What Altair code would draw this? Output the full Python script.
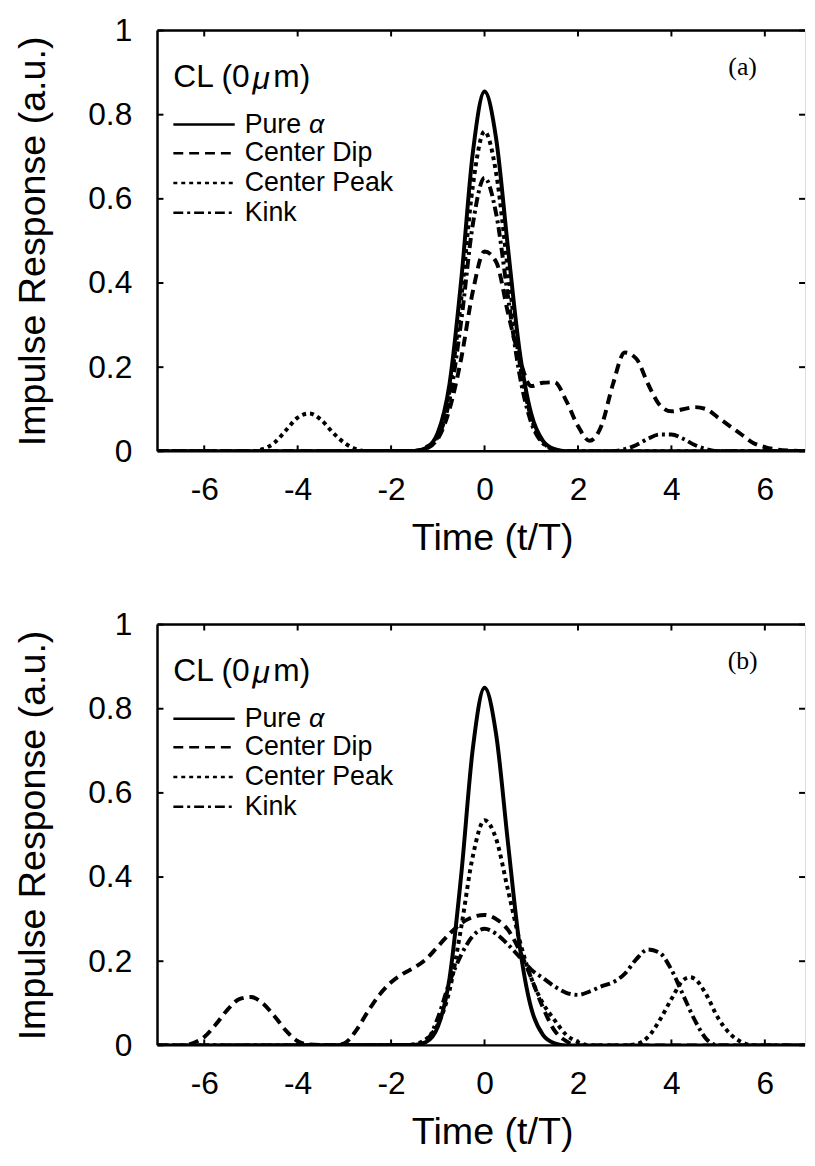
import altair as alt
import pandas as pd

# ---------------- data ----------------
X_TICKS = [-6, -4, -2, 0, 2, 4, 6]
Y_TICKS = [0, 0.2, 0.4, 0.6, 0.8, 1]
LEGEND_NAMES = ["Pure", "Center Dip", "Center Peak", "Kink"]

# panel (a)
A_PURE_T = [-7, -1.5, -1.25, -1.0, -0.75, -0.5, -0.25, 0, 0.25, 0.5, 0.75, 1.0, 1.25, 1.5, 1.75, 7]
A_PURE_V = [0, 0.001, 0.008, 0.044, 0.16, 0.406, 0.71, 0.855, 0.742, 0.485, 0.239, 0.089, 0.025, 0.005, 0, 0]

A_DIP_T = [-7, -1.5, -1.25, -1.0, -0.75, -0.5, -0.25, 0,
           0.25, 0.5, 0.75, 1.0, 1.25, 1.5, 1.75, 2.0, 2.25, 2.5, 2.75, 3.0,
           3.25, 3.5, 3.75, 4.0, 4.25, 4.5, 4.75, 5.0, 5.25, 5.5, 5.75, 6.0, 6.5, 7]
A_DIP_V = [0, 0, 0.01, 0.03, 0.1, 0.22, 0.38, 0.475,
           0.45, 0.33, 0.22, 0.155, 0.163, 0.164, 0.12, 0.06, 0.025, 0.06, 0.16, 0.235,
           0.22, 0.16, 0.11, 0.095, 0.1, 0.105, 0.1, 0.08, 0.06, 0.04, 0.02, 0.01, 0.002, 0]

A_PEAK_T = [-7, -5.0, -4.75, -4.5, -4.25, -4.0, -3.75, -3.5, -3.25, -3.0, -2.75, -2.5,
            -1.5, -1.25, -1.0, -0.75, -0.5, -0.25, 0,
            0.25, 0.5, 0.75, 1.0, 1.25, 1.5, 1.75, 7]
A_PEAK_V = [0, 0, 0.005, 0.02, 0.05, 0.08, 0.09, 0.075, 0.045, 0.02, 0.005, 0,
            0.001, 0.007, 0.039, 0.142, 0.361, 0.631, 0.76,
            0.66, 0.431, 0.212, 0.079, 0.022, 0.004, 0, 0]

A_KINK_T = [-7, -1.5, -1.25, -1.0, -0.75, -0.5, -0.25, 0,
            0.25, 0.5, 0.75, 1.0, 1.25, 1.5, 1.75,
            2.75, 3.0, 3.25, 3.5, 3.75, 4.0, 4.25, 4.5, 4.75, 5.0, 7]
A_KINK_V = [0, 0.001, 0.006, 0.033, 0.122, 0.309, 0.54, 0.65,
            0.564, 0.369, 0.182, 0.068, 0.019, 0.004, 0,
            0, 0.005, 0.015, 0.03, 0.04, 0.04, 0.03, 0.015, 0.005, 0, 0]

# panel (b)
B_PURE_T = [-7, -1.5, -1.25, -1.0, -0.75, -0.5, -0.25, 0, 0.25, 0.5, 0.75, 1.0, 1.25, 1.5, 1.75, 7]
B_PURE_V = [0, 0.001, 0.008, 0.044, 0.159, 0.404, 0.706, 0.85, 0.738, 0.483, 0.238, 0.088, 0.025, 0.005, 0, 0]

B_DIP_T = [-7, -6.5, -6.25, -6.0, -5.75, -5.5, -5.25, -5.0, -4.75, -4.5, -4.25, -4.0, -3.75,
           -3.25, -3.0, -2.75, -2.5, -2.25, -2.0, -1.75, -1.5, -1.25, -1.0, -0.75, -0.5, -0.25, 0,
           0.25, 0.5, 0.75, 1.0, 1.25, 1.5, 1.75, 2.0, 7]
B_DIP_V = [0, 0, 0.005, 0.02, 0.05, 0.085, 0.11, 0.115, 0.1, 0.07, 0.035, 0.01, 0.002,
           0, 0.005, 0.035, 0.08, 0.12, 0.15, 0.17, 0.185, 0.205, 0.235, 0.265, 0.29, 0.305, 0.31,
           0.3, 0.275, 0.225, 0.16, 0.09, 0.035, 0.01, 0, 0]

B_PEAK_T = [-7, -1.75, -1.5, -1.25, -1.0, -0.75, -0.5, -0.25, 0,
            0.25, 0.5, 0.75, 1.0, 1.25, 1.5, 1.75, 2.0, 2.25,
            3.0, 3.25, 3.5, 3.75, 4.0, 4.25, 4.4, 4.5, 4.75, 5.0, 5.25, 5.5, 5.75, 7]
B_PEAK_V = [0, 0, 0.003, 0.015, 0.05, 0.13, 0.28, 0.45, 0.535,
            0.49, 0.37, 0.25, 0.16, 0.1, 0.06, 0.025, 0.008, 0,
            0, 0.003, 0.02, 0.06, 0.11, 0.155, 0.162, 0.158, 0.12, 0.065, 0.028, 0.008, 0, 0]

B_KINK_T = [-7, -1.5, -1.25, -1.0, -0.75, -0.5, -0.25, 0,
            0.25, 0.5, 0.75, 1.0, 1.25, 1.5, 1.75, 2.0, 2.25, 2.5, 2.75, 3.0,
            3.25, 3.5, 3.75, 4.0, 4.25, 4.5, 4.75, 5.0, 7]
B_KINK_V = [0, 0, 0.01, 0.065, 0.15, 0.215, 0.26, 0.277,
            0.265, 0.24, 0.21, 0.18, 0.16, 0.14, 0.125, 0.12, 0.128, 0.14, 0.15, 0.17,
            0.205, 0.228, 0.22, 0.18, 0.12, 0.06, 0.015, 0, 0]

# ---------------- styling ----------------
FONT = "Liberation Sans"
SERIF = "Liberation Serif"
W, H = 654, 425
XDOM = [-7, 6.86]
DASH = {"Pure": None, "Center Dip": [10, 6], "Center Peak": [4, 4], "Kink": [10, 4, 3, 4]}
LEG_Y = [95, 124, 154, 184]
TICK = 6


def xenc(field="t"):
    return alt.X(f"{field}:Q", scale=alt.Scale(domain=XDOM, nice=False, zero=False),
                 axis=alt.Axis(values=X_TICKS, title="Time (t/T)", labelExpr="'' + datum.value",
                               domain=False, ticks=False, tickSize=0, grid=False, labelFlush=False,
                               labelFont=FONT, labelFontSize=32, labelColor="black", labelPadding=24,
                               titleFont=FONT, titleFontSize=38, titleFontWeight="normal",
                               titleColor="black", titlePadding=14, titleX=338))


def yenc(field="v"):
    return alt.Y(f"{field}:Q", scale=alt.Scale(domain=[0, 1], nice=False, zero=False),
                 axis=alt.Axis(values=Y_TICKS, title="Impulse Response (a.u.)", labelExpr="'' + datum.value",
                               domain=False, ticks=False, tickSize=0, grid=False, labelFlush=False,
                               labelFont=FONT, labelFontSize=32, labelColor="black", labelPadding=26,
                               titleFont=FONT, titleFontSize=38, titleFontWeight="normal",
                               titleColor="black", titlePadding=36))


one = pd.DataFrame({"k": [0]})


def txt(s, x, y, size, font=FONT, style="normal", align="left"):
    return alt.Chart(one).mark_text(text=s, font=font, fontSize=size, fontStyle=style,
                                    align=align, baseline="middle", color="black").encode(
        x=alt.value(x), y=alt.value(y))


def panel(tag, curves):
    layers = []
    for name, ts, vs in curves:
        df = pd.DataFrame({"t": ts, "v": vs})
        kw = dict(color="black", strokeWidth=4, interpolate="monotone", clip=True)
        if DASH[name]:
            kw["strokeDash"] = DASH[name]
        layers.append(alt.Chart(df).mark_line(**kw).encode(x=xenc(), y=yenc()))

    tx = pd.DataFrame({"t": X_TICKS})
    ty = pd.DataFrame({"v": Y_TICKS})
    rk = dict(color="black", strokeWidth=2)
    layers.append(alt.Chart(tx).mark_rule(**rk).encode(x=xenc(), y=alt.value(H), y2=alt.value(H - TICK)))
    layers.append(alt.Chart(tx).mark_rule(**rk).encode(x=xenc(), y=alt.value(0), y2=alt.value(TICK)))
    layers.append(alt.Chart(ty).mark_rule(**rk).encode(y=yenc(), x=alt.value(0), x2=alt.value(TICK)))
    layers.append(alt.Chart(ty).mark_rule(**rk).encode(y=yenc(), x=alt.value(W - TICK), x2=alt.value(W)))

    fk = dict(color="black", strokeWidth=2.5)
    layers.append(alt.Chart(one).mark_rule(**fk).encode(x=alt.value(0), x2=alt.value(W), y=alt.value(0)))
    layers.append(alt.Chart(one).mark_rule(**fk).encode(x=alt.value(0), x2=alt.value(W), y=alt.value(H)))
    layers.append(alt.Chart(one).mark_rule(**fk).encode(x=alt.value(0), y=alt.value(0), y2=alt.value(H)))

    # legend block
    layers.append(txt("CL (0", 16, 47, 32))
    layers.append(txt("μ", 96, 49, 32, style="italic"))
    layers.append(txt("m)", 117, 47, 32))
    for i, name in enumerate(LEGEND_NAMES):
        kw = dict(color="black", strokeWidth=2.5)
        if DASH[name]:
            kw["strokeDash"] = DASH[name]
        layers.append(alt.Chart(one).mark_rule(**kw).encode(
            x=alt.value(16), x2=alt.value(78), y=alt.value(LEG_Y[i])))
        layers.append(txt(name, 88, LEG_Y[i], 27))
    layers.append(txt("α", 153, LEG_Y[0], 27, style="italic"))
    layers.append(txt(tag, 591, 37, 26, font=SERIF, align="center"))

    return alt.layer(*layers).properties(width=W, height=H)


top = panel("(a)", [("Pure", A_PURE_T, A_PURE_V), ("Center Dip", A_DIP_T, A_DIP_V),
                    ("Center Peak", A_PEAK_T, A_PEAK_V), ("Kink", A_KINK_T, A_KINK_V)])
bottom = panel("(b)", [("Pure", B_PURE_T, B_PURE_V), ("Center Dip", B_DIP_T, B_DIP_V),
                       ("Center Peak", B_PEAK_T, B_PEAK_V), ("Kink", B_KINK_T, B_KINK_V)])

chart = alt.vconcat(top, bottom, spacing=50).properties(
    padding={"left": 6, "top": 0, "right": 0, "bottom": 0}
).configure_view(stroke=None).configure(background="white")

chart.save("out.html", embed_options={"renderer": "svg", "actions": False})
